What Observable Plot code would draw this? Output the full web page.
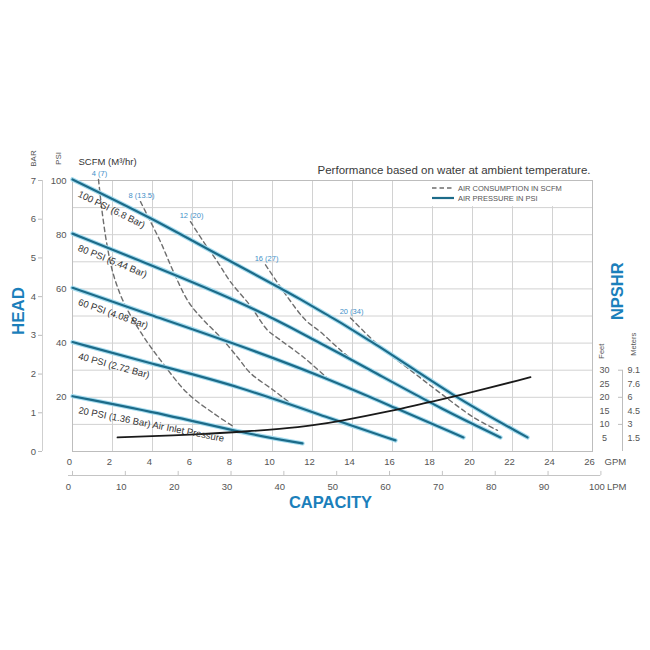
<!DOCTYPE html>
<html><head><meta charset="utf-8">
<script src="https://cdn.jsdelivr.net/npm/d3@7"></script>
<script src="https://cdn.jsdelivr.net/npm/@observablehq/plot@0.6"></script>
<style>body{margin:0;background:#fff;} #chart{width:650px;height:650px;}</style>
</head><body><div id="chart"></div>
<script>
// ---------- tick labels ----------
const gpmTicks = [0,2,4,6,8,10,12,14,16,18,20,22,24,26];
const lpmTicks = [0,10,20,30,40,50,60,70,80,90,100];
const psiTicks = [20,40,60,80,100];
const psiGrid = [10,20,30,40,50,60,70,80,90];
const barTicks = [0,1,2,3,4,5,6,7];
const npshrFeetTicks = [5,10,15,20,25,30];
const npshrMeterLabels = ["1.5","3","4.5","6","7.6","9.1"];
const LPM_PER_GPM = 3.785;
const PSI_PER_BAR_AXIS = 100/7;

// ---------- air pressure curves (GPM, head PSI) ----------
const pressureNames = ["100 PSI (6.8 Bar)","80 PSI (5.44 Bar)","60 PSI (4.08 Bar)","40 PSI (2.72 Bar)","20 PSI (1.36 Bar) Air Inlet Pressure"];
const psi100 = [[0,100.4],[4,86],[7.4,72],[11.4,56.5],[15.4,38.8],[19,20.5],[22.75,5.2]];
const psi80  = [[0,80.4],[4.2,68],[8.4,55.2],[11.4,44],[15.4,28],[18.5,15.5],[21.4,5.2]];
const psi60  = [[0,60.4],[3.9,50.4],[7.9,40.4],[12.75,27],[16.15,16],[19.55,5.2]];
const psi40  = [[0,40.4],[4.2,31.9],[8.2,24.4],[13.3,11.1],[16.15,4.1]];
const psi20  = [[0,20.4],[4.9,13.3],[8.4,7.0],[11.5,3.0]];
const pressureCurves = [psi100, psi80, psi60, psi40, psi20];

// ---------- air consumption curves (GPM, head PSI) ----------
const scfmNames = ["4 (7)","8 (13.5)","12 (20)","16 (27)","20 (34)"];
const scfm4  = [[1.3,100.4],[1.5,87.4],[1.75,75.2],[2.05,65.2],[2.55,55.2],[3.4,44.1],[4.4,33.7],[5.75,21.5],[7.05,14.1],[8.05,9.2]];
const scfm8  = [[3.4,92.2],[3.8,86.3],[4.4,77.4],[5.05,66.3],[5.8,55.2],[6.55,48.5],[7.4,42.2],[8.25,34.8],[8.9,28.9],[10.05,22.6],[10.9,17.8]];
const scfm12 = [[5.9,84.8],[6.55,77.4],[7.25,70],[7.9,62.6],[8.9,53.7],[9.75,44.8],[10.4,41.1],[11.55,34.8],[12.75,27]];
const scfm16 = [[9.65,68.9],[10.75,57],[11.65,48.5],[12.4,44.1],[13.4,37.4],[14.3,31.9]];
const scfm20 = [[13.9,49.3],[15.4,38.5],[16.9,30],[18.4,21.5],[20.05,12.6],[21.25,7.8]];
const scfmCurves = [scfm4, scfm8, scfm12, scfm16, scfm20];

// ---------- NPSHR curve (GPM, feet) ----------
const npshrCurve = [[2.25,5.2],[6.5,6.3],[8.65,7.4],[11.4,8.9],[13.3,11.1],[16.15,15.2],[17.55,17.8],[19,20],[22.9,27.4]];

// ---------- build tables ----------
const pressureRows = [];
pressureCurves.forEach((pts,i) => pts.forEach(([g,p]) => pressureRows.push({name: pressureNames[i], gpm: g, psi: p})));
const scfmRows = [];
scfmCurves.forEach((pts,i) => pts.forEach(([g,p]) => scfmRows.push({name: scfmNames[i], gpm: g, psi: p})));
const npshrRows = npshrCurve.map(([g,f]) => ({gpm: g, ft: f}));

const pxPerGpm = 520/26, pxPerPsi = 271/100;
const pressureLabels = pressureCurves.map((pts,i) => ({
  text: pressureNames[i], gpm: pts[0][0], psi: pts[0][1],
  angle: Math.atan2((pts[0][1]-pts[1][1])*pxPerPsi, (pts[1][0]-pts[0][0])*pxPerGpm) * 180/Math.PI
}));
const scfmLabels = scfmCurves.map((pts,i) => ({text: scfmNames[i], gpm: pts[0][0], psi: pts[0][1]}));

const BLUE = "#1b7fbb";
const GREY = "#555";
const FONT = "'Liberation Sans', Arial, Helvetica, sans-serif";
const T = {textAnchor: "middle", lineAnchor: "middle"};

const chart = Plot.plot({
  width: 650, height: 650,
  marginLeft: 72, marginRight: 58, marginTop: 180, marginBottom: 199,
  x: {domain: [0,26], axis: null},
  y: {domain: [0,100], axis: null},
  style: {fontFamily: FONT, background: "#fff"},
  marks: [
    // grid
    Plot.ruleX(gpmTicks, {stroke: "#d2d2d2", strokeWidth: 1}),
    Plot.ruleY(psiGrid, {stroke: "#d2d2d2", strokeWidth: 1}),
    Plot.frame({stroke: "#bdbdbd", strokeWidth: 1}),

    // air consumption (dashed)
    Plot.line(scfmRows, {x: "gpm", y: "psi", z: "name", stroke: "#6e6e6e", strokeWidth: 1.4, strokeDasharray: "4.5,3.5", curve: "catmull-rom"}),
    // air pressure (blue with halo)
    Plot.line(pressureRows, {x: "gpm", y: "psi", z: "name", stroke: "#a6dcef", strokeWidth: 4.4, curve: "basis"}),
    Plot.line(pressureRows, {x: "gpm", y: "psi", z: "name", stroke: "#1c6b89", strokeWidth: 2.2, curve: "basis"}),
    // NPSHR
    Plot.line(npshrRows, {x: "gpm", y: "ft", stroke: "#1a1a1a", strokeWidth: 1.8, curve: "basis"}),

    // curve labels
    Plot.text(pressureLabels, {x: "gpm", y: "psi", text: "text", rotate: "angle", dx: 6, dy: 14, textAnchor: "start", lineAnchor: "middle", fontSize: 9.5, fill: "#333"}),
    Plot.text(scfmLabels, {x: "gpm", y: "psi", text: "text", ...T, dx: 1, dy: -6, fontSize: 7.5, fill: "#3f8fc8"}),

    // GPM axis
    Plot.text(gpmTicks, {x: d => d, frameAnchor: "bottom", ...T, dx: -3, dy: 10, fontSize: 9.5, fill: GREY}),
    Plot.text(["GPM"], {frameAnchor: "bottom-right", textAnchor: "start", lineAnchor: "middle", dx: 12, dy: 10, fontSize: 9.5, fill: GREY}),
    // LPM axis
    Plot.ruleY([0], {x1: -0.2, x2: 100/LPM_PER_GPM, dy: 24, stroke: "#c4c4c4"}),
    Plot.ruleX(lpmTicks, {x: d => d/LPM_PER_GPM, y1: 0, y2: 1.5, dy: 24, stroke: "#c4c4c4"}),
    Plot.text(lpmTicks, {x: d => d/LPM_PER_GPM, frameAnchor: "bottom", ...T, dx: -4, dy: 35, fontSize: 9.5, fill: GREY}),
    Plot.text(["LPM"], {x: 100/LPM_PER_GPM, frameAnchor: "bottom", textAnchor: "start", lineAnchor: "middle", dx: 6, dy: 35, fontSize: 9.5, fill: GREY}),
    Plot.text(["CAPACITY"], {frameAnchor: "bottom", ...T, dx: -2, dy: 51, fontSize: 16.5, fontWeight: "bold", fill: BLUE}),

    // PSI axis
    Plot.text(psiTicks, {y: d => d, frameAnchor: "left", textAnchor: "end", lineAnchor: "middle", dx: -6, fontSize: 9.5, fill: GREY}),
    // BAR axis
    Plot.ruleX([0], {dx: -30, stroke: "#cfcfcf"}),
    Plot.ruleY(barTicks, {y: d => d*PSI_PER_BAR_AXIS, x1: -0.2, x2: 0, dx: -30, stroke: "#bdbdbd"}),
    Plot.text(barTicks, {y: d => d*PSI_PER_BAR_AXIS, frameAnchor: "left", ...T, dx: -39, fontSize: 9.5, fill: GREY}),
    Plot.text(["BAR"], {frameAnchor: "top-left", ...T, dx: -39, dy: -22, rotate: -90, fontSize: 8, fill: GREY}),
    Plot.text(["PSI"], {frameAnchor: "top-left", ...T, dx: -14, dy: -22, rotate: -90, fontSize: 8, fill: GREY}),
    Plot.text(["SCFM (M³/hr)"], {frameAnchor: "top-left", textAnchor: "start", lineAnchor: "middle", dx: 6, dy: -19, fontSize: 9.5, fill: "#333"}),
    Plot.text(["HEAD"], {frameAnchor: "left", ...T, dx: -54, dy: -5, rotate: -90, fontSize: 17, fontWeight: "bold", fill: BLUE}),

    // NPSHR axis
    Plot.ruleX([26], {y1: 0, y2: 30, dx: 30, stroke: "#bdbdbd"}),
    Plot.ruleY([10,20,30], {x1: 25.8, x2: 26, dx: 30, stroke: "#bdbdbd"}),
    Plot.text(npshrFeetTicks, {y: d => d, frameAnchor: "right", ...T, dx: 12, fontSize: 9, fill: GREY}),
    Plot.text(npshrFeetTicks, {y: d => d, text: (d,i) => npshrMeterLabels[i], frameAnchor: "right", textAnchor: "start", lineAnchor: "middle", dx: 35, fontSize: 9, fill: GREY}),
    Plot.text(["Feet"], {x: 26, y: 30, ...T, dx: 9, dy: -19, rotate: -90, fontSize: 7.5, fill: GREY}),
    Plot.text(["Meters"], {x: 26, y: 30, ...T, dx: 41, dy: -26, rotate: -90, fontSize: 7.5, fill: GREY}),
    Plot.text(["NPSHR"], {x: 26, y: 30, ...T, dx: 25, dy: -79, rotate: -90, fontSize: 16.5, fontWeight: "bold", fill: BLUE}),

    // title
    Plot.text(["Performance based on water at ambient temperature."], {frameAnchor: "top-right", textAnchor: "end", lineAnchor: "middle", dx: -2, dy: -10, fontSize: 11.5, fill: "#3a3a3a"})
  ]
});

// legend inside the plot (top-right)
const xs = chart.scale("x"), ys = chart.scale("y");
const svg = d3.select(chart);
const lg = svg.append("g").attr("font-family", FONT).attr("font-size", 7.5).attr("fill", GREY).attr("text-anchor", "start");
const frameRight = xs.apply(26), frameTop = ys.apply(100), gridY = ys.apply(90);
lg.append("rect").attr("x", frameRight - 164).attr("y", frameTop + 1).attr("width", 163).attr("height", gridY - frameTop - 2).attr("fill", "#fff");
lg.append("line").attr("x1", frameRight - 160).attr("x2", frameRight - 138).attr("y1", frameTop + 8).attr("y2", frameTop + 8)
  .attr("stroke", "#6e6e6e").attr("stroke-width", 1.4).attr("stroke-dasharray", "4.5,3");
lg.append("text").attr("x", frameRight - 134).attr("y", frameTop + 8).attr("dy", "0.35em").text("AIR CONSUMPTION IN SCFM");
lg.append("line").attr("x1", frameRight - 160).attr("x2", frameRight - 138).attr("y1", frameTop + 18).attr("y2", frameTop + 18)
  .attr("stroke", "#1c6b89").attr("stroke-width", 2.2);
lg.append("text").attr("x", frameRight - 134).attr("y", frameTop + 18).attr("dy", "0.35em").text("AIR PRESSURE IN PSI");

document.getElementById("chart").append(chart);
</script>
</body></html>
